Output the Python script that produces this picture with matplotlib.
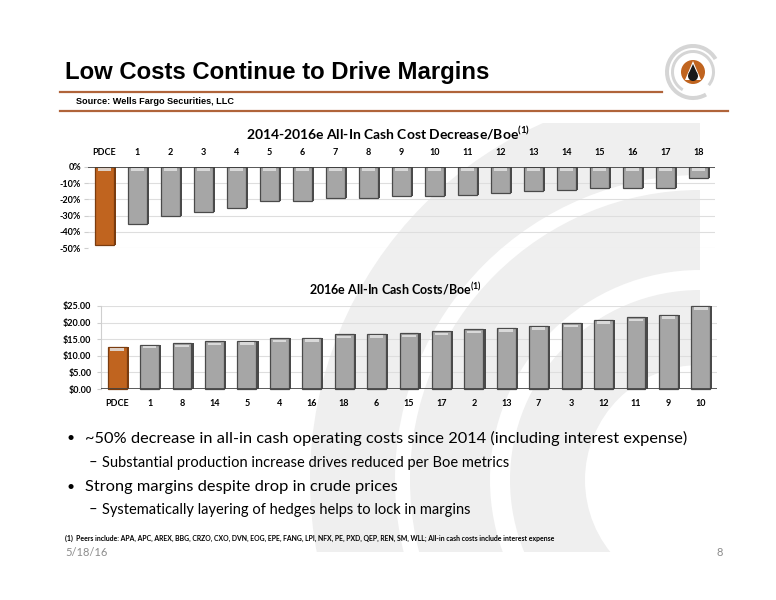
import numpy as np
import matplotlib
matplotlib.use('Agg')
import matplotlib.pyplot as plt
from matplotlib.patches import Wedge, Rectangle, Circle, Polygon

# data
top_labels = ['PDCE', '1', '2', '3', '4', '5', '6', '7', '8', '9', '10',
              '11', '12', '13', '14', '15', '16', '17', '18']
top_values = [-48, -35, -30, -28, -25, -21, -21, -19, -19, -18, -18,
              -17, -16, -15, -14, -13, -13, -13, -7]
top_ticks = [0, -10, -20, -30, -40, -50]
top_ticklabels = ['0%', '-10%', '-20%', '-30%', '-40%', '-50%']

bot_labels = ['PDCE', '1', '8', '14', '5', '4', '16', '18', '6', '15',
              '17', '2', '13', '7', '3', '12', '11', '9', '10']
bot_values = [12.6, 13.4, 13.8, 14.4, 14.5, 15.3, 15.5, 16.5, 16.7, 16.8,
              17.4, 18.0, 18.5, 19.0, 19.8, 20.8, 21.6, 22.3, 25.0]
bot_ticks = [0, 5, 10, 15, 20, 25]
bot_ticklabels = ['$0.00', '$5.00', '$10.00', '$15.00', '$20.00', '$25.00']

ORANGE = '#c0641f'
ORANGE_EDGE = '#7a3c0f'
GRAY = '#a6a6a6'
CAL = 'Lato'

fig = plt.figure(figsize=(7.76, 6), dpi=100)
fig.patch.set_facecolor('white')

# background layer in pixel coordinates
bg = fig.add_axes([0, 0, 1, 1], zorder=0)
bg.set_xlim(0, 776)
bg.set_ylim(600, 0)
bg.axis('off')

clip = Rectangle((60, 123), 671, 429, transform=bg.transData)
for r, w in [(390, 85), (290, 80), (190, 75)]:
    wd = Wedge((700, 480), r, 90, 270, width=w, color='#efefef', lw=0)
    bg.add_patch(wd)
    wd.set_clip_path(clip)

# header
bg.text(65, 73, 'Low Costs Continue to Drive Margins', fontsize=17.2,
        fontweight='bold', family='Liberation Sans', va='center', ha='left')
bg.plot([60, 662], [92, 92], color='#b0643a', lw=1.6)
bg.text(76, 102, 'Source: Wells Fargo Securities, LLC', fontsize=6.6,
        fontweight='bold', family='Liberation Sans', va='center', ha='left')
bg.plot([60, 728], [111, 111], color='#b0643a', lw=1.6)

# logo
for r, w, a1, a2 in [(28, 4, 60, 330), (22, 3, 120, 40)]:
    bg.add_patch(Wedge((693, 72), r, a1, a2, width=w, color='#d5d5d5', lw=0))
bg.add_patch(Circle((693, 72), 12, color=ORANGE, lw=0))
bg.add_patch(Polygon([[693, 61], [701, 80], [685, 80]], closed=True, color='white', lw=0))
bg.add_patch(Circle((693, 76), 5, color='#1a1a1a', lw=0))
bg.add_patch(Polygon([[693, 64], [697.5, 74], [688.5, 74]], closed=True, color='#1a1a1a', lw=0))


def draw_bars(ax, values, hl):
    x = np.arange(len(values))
    vals = np.array(values, dtype=float)
    colors = [ORANGE] + [GRAY] * (len(vals) - 1)
    edges = [ORANGE_EDGE] + ['#4a4a4a'] * (len(vals) - 1)
    # shadow
    ax.bar(x + 0.07, vals, width=0.58, color=edges, zorder=2)
    ax.bar(x, vals, width=0.58, color=colors, edgecolor=edges, lw=0.9, zorder=3)
    # bevel highlight
    sign = np.sign(vals)
    if hl == 'base':
        ax.bar(x, -1.8 * np.ones_like(vals), bottom=-0.6, width=0.42,
               color='#e3e3e3', lw=0, zorder=4, alpha=0.85)
    else:
        ax.bar(x, 0.8 * sign, bottom=vals - 1.2 * sign, width=0.42,
               color='#e3e3e3', lw=0, zorder=4, alpha=0.85)
    return x


def style(ax, ticks, ticklabels, ylim):
    ax.set_facecolor('none')
    ax.set_ylim(*ylim)
    ax.set_xlim(-0.5, 18.5)
    ax.set_yticks(ticks)
    ax.set_yticklabels(ticklabels, fontsize=6.5, fontweight='bold', family=CAL)
    ax.grid(axis='y', color='#dedede', lw=0.8, zorder=0)
    ax.set_axisbelow(True)
    for s in ax.spines.values():
        s.set_visible(False)
    ax.tick_params(axis='y', length=3, color='#cfcfcf', pad=2)
    ax.tick_params(axis='x', length=0)


# top chart
ax1 = fig.add_axes([88 / 776, 1 - 248 / 600, 627 / 776, 81 / 600], zorder=2)
x1 = draw_bars(ax1, top_values, 'base')
style(ax1, top_ticks, top_ticklabels, (-50, 0))
ax1.xaxis.tick_top()
ax1.set_xticks(x1)
ax1.set_xticklabels(top_labels, fontsize=6.5, fontweight='bold', family=CAL)
ax1.tick_params(axis='x', pad=7)
ax1.axhline(0, color='#404040', lw=1.2, zorder=5)
bg.text(388, 133, '2014-2016e All-In Cash Cost Decrease/Boe$^{\\mathregular{(1)}}$',
        fontsize=10, fontweight='bold', family=CAL, ha='center', va='center')

# bottom chart
ax2 = fig.add_axes([101 / 776, 1 - 389 / 600, 616 / 776, 83 / 600], zorder=2)
x2 = draw_bars(ax2, bot_values, 'top')
style(ax2, bot_ticks, bot_ticklabels, (0, 25))
ax2.spines['left'].set_visible(True)
ax2.spines['left'].set_color('#cfcfcf')
ax2.set_xticks(x2)
ax2.set_xticklabels(bot_labels, fontsize=6.5, fontweight='bold', family=CAL)
ax2.tick_params(axis='x', pad=7)
ax2.tick_params(axis='y', pad=4)
ax2.axhline(0, color='#404040', lw=1.2, zorder=5)
for b in ax2.patches:
    b.set_clip_on(False)
bg.text(395, 289, '2016e All-In Cash Costs/Boe$^{\\mathregular{(1)}}$',
        fontsize=9, fontweight='bold', family=CAL, ha='center', va='center')

# bullets
bullets = [
    (67, 85, 438, '~50% decrease in all-in cash operating costs since 2014 (including interest expense)', 11.8),
    (89, 102, 463, 'Substantial production increase drives reduced per Boe metrics', 10.5),
    (67, 85, 487, 'Strong margins despite drop in crude prices', 11.8),
    (89, 102, 510, 'Systematically layering of hedges helps to lock in margins', 10.5),
]
for bx, tx, y, txt, fs in bullets:
    mark = '\u2022' if bx < 80 else '\u2013'
    bg.text(bx, y, mark, fontsize=fs * 0.85 if mark == '\u2022' else fs,
            family=CAL, ha='left', va='center')
    bg.text(tx, y, txt, fontsize=fs, family=CAL, ha='left', va='center')

bg.text(65, 538, '(1)  Peers include: APA, APC, AREX, BBG, CRZO, CXO, DVN, EOG, EPE, FANG, LPI, NFX, PE, PXD, '
        'QEP, REN, SM, WLL; All-in cash costs include interest expense',
        fontsize=4.95, fontweight='bold', family=CAL, ha='left', va='center')
bg.text(65, 552, '5/18/16', fontsize=8, color='#8c8c8c', family=CAL, ha='left', va='center')
bg.text(720, 552, '8', fontsize=8, color='#8c8c8c', family=CAL, ha='center', va='center')

fig.savefig('out.png', dpi=100)
